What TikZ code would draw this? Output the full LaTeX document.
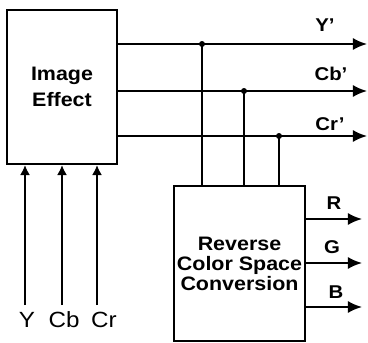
\documentclass[tikz,border=0pt]{standalone}
\usepackage{fontspec}
\setmainfont{Liberation Sans}[FakeStretch=1.1]
\usepackage{tikz}
\usetikzlibrary{arrows.meta, positioning}

\tikzset{
    block/.style={draw, line width=2pt, align=center, font=\bfseries\fontsize{19.5}{26}\selectfont},
    sig/.style={line width=1.9pt},
    sigarrow/.style={sig, -{Latex[length=14pt, width=12pt]}},
    inarrow/.style={sig, -{Latex[length=10pt, width=10pt]}},
    lab/.style={font=\bfseries\fontsize{18.5}{18}\selectfont, inner sep=0pt},
    inlab/.style={font=\fontsize{22}{22}\selectfont, inner sep=0pt},
    tap/.style={circle, fill, inner sep=0pt, minimum size=6pt}
}

\begin{document}
\begin{tikzpicture}[x=1pt, y=-1pt]
    \useasboundingbox (0,0) rectangle (368,343);

    % 1. Hai khoi chinh
    \node[block, minimum width=110pt, minimum height=154pt] (effect) at (62,87) {Image\\Effect};
    \node[block, minimum width=131pt, minimum height=155pt,
          font=\bfseries\fontsize{19.5}{20}\selectfont] (conv) at (239.5,263.5)
          {Reverse\\Color Space\\Conversion};

    % 2. Tin hieu vao Y, Cb, Cr
    \node[inlab] (ylab) at (27,320) {Y};
    \node[inlab] (cblab) at (64,320) {Cb};
    \node[inlab] (crlab) at (104,320) {Cr};
    \coordinate (yin) at (25,305);
    \coordinate (cbin) at (62,305);
    \coordinate (crin) at (97,305);
    \foreach \s in {yin, cbin, crin}
        \draw[inarrow] (\s) -- (\s |- effect.south);

    % 3. Tin hieu ra Y', Cb', Cr'
    \coordinate (yout) at (367,44);
    \coordinate (cbout) at (367,91);
    \coordinate (crout) at (367,136);
    \foreach \s in {yout, cbout, crout}
        \draw[sigarrow] (effect.east |- \s) -- (\s);
    \node[lab] (yplab) at (325,25) {Y'};
    \node[lab] (cbplab) at (331,74) {Cb'};
    \node[lab] (crplab) at (330,124) {Cr'};

    % 4. Cac diem re nhanh xuong khoi chuyen doi
    \node[tap] (ytap) at (202,44) {};
    \node[tap] (cbtap) at (244,91) {};
    \node[tap] (crtap) at (279,136) {};
    \foreach \s in {ytap, cbtap, crtap}
        \draw[sig] (\s.center) -- (\s |- conv.north);

    % 5. Tin hieu ra R, G, B
    \coordinate (rout) at (362,219);
    \coordinate (gout) at (362,263);
    \coordinate (bout) at (362,307);
    \foreach \s in {rout, gout, bout}
        \draw[sigarrow] (conv.east |- \s) -- (\s);
    \node[lab] (rlab) at (334,203) {R};
    \node[lab] (glab) at (332,247) {G};
    \node[lab] (blab) at (336,292) {B};
\end{tikzpicture}
\end{document}
